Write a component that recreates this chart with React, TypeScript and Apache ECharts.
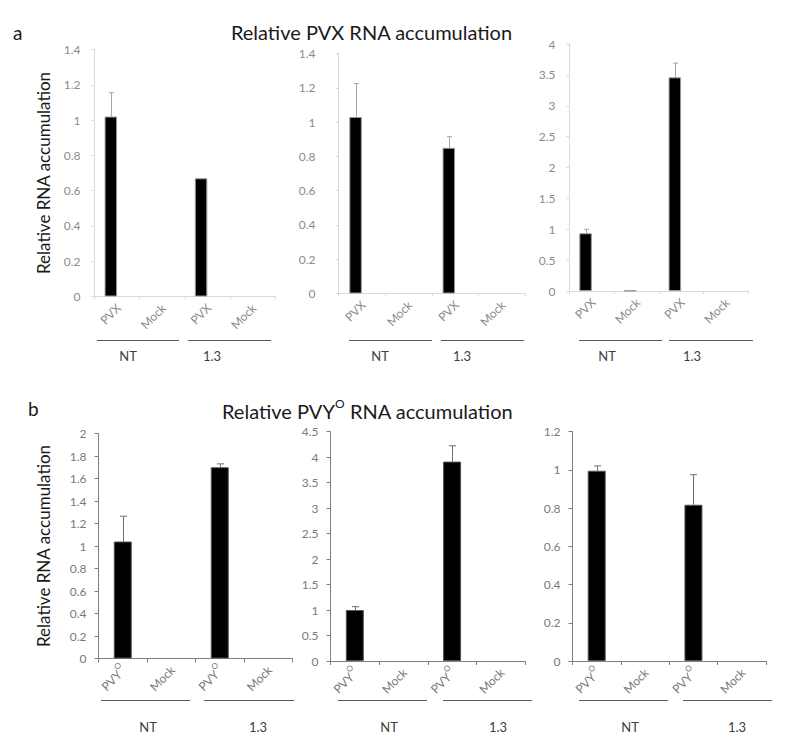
import React, { useEffect, useRef } from "react";
import * as echarts from "echarts";

// ---- data ----
const TOP_CATEGORIES = ["PVX", "Mock", "PVX", "Mock"];
const BOTTOM_CATEGORIES = ["PVYO", "Mock", "PVYO", "Mock"];
const GROUP_LABELS = ["NT", "1.3"];

// a) Relative PVX RNA accumulation
const pvxPanel1 = [1.02, 0, 0.67, 0];
const pvxPanel1Err = [0.135, null, null, null];
const pvxPanel2 = [1.03, 0, 0.85, 0];
const pvxPanel2Err = [0.195, null, 0.065, null];
const pvxPanel3 = [0.935, 0.005, 3.46, 0];
const pvxPanel3Err = [0.065, null, 0.23, null];

// b) Relative PVYO RNA accumulation
const pvyPanel1 = [1.04, 0, 1.7, 0];
const pvyPanel1Err = [0.225, null, 0.03, null];
const pvyPanel2 = [1.0, 0, 3.91, 0];
const pvyPanel2Err = [0.065, null, 0.31, null];
const pvyPanel3 = [0.995, 0, 0.817, 0];
const pvyPanel3Err = [0.025, null, 0.157, null];

const PVX_AXIS_MAX = [1.4, 1.4, 4];
const PVX_AXIS_INTERVAL = [0.2, 0.2, 0.5];
const PVY_AXIS_MAX = [2, 4.5, 1.2];
const PVY_AXIS_INTERVAL = [0.2, 0.5, 0.2];

const FONT = "Lato";

export default function App() {
  const ref = useRef<HTMLDivElement>(null);

  useEffect(() => {
    document.body.style.margin = "0";
    const chart = echarts.init(ref.current!, null, { renderer: "svg" });

    const TOP_BAR_W = 12.5;
    const BOT_BAR_W = 18;

    const panels = [
      { row: 0, vals: pvxPanel1, errs: pvxPanel1Err, max: PVX_AXIS_MAX[0], interval: PVX_AXIS_INTERVAL[0], grid: { left: 94.5, top: 49.5, width: 180.5, height: 247 }, labelMargin: 14 },
      { row: 0, vals: pvxPanel2, errs: pvxPanel2Err, max: PVX_AXIS_MAX[1], interval: PVX_AXIS_INTERVAL[1], grid: { left: 338.5, top: 53.5, width: 186.5, height: 240 }, labelMargin: 23 },
      { row: 0, vals: pvxPanel3, errs: pvxPanel3Err, max: PVX_AXIS_MAX[2], interval: PVX_AXIS_INTERVAL[2], grid: { left: 569.5, top: 44, width: 178.5, height: 247 }, labelMargin: 14 },
      { row: 1, vals: pvyPanel1, errs: pvyPanel1Err, max: PVY_AXIS_MAX[0], interval: PVY_AXIS_INTERVAL[0], grid: { left: 98.5, top: 433.5, width: 194, height: 225 }, labelMargin: 12 },
      { row: 1, vals: pvyPanel2, errs: pvyPanel2Err, max: PVY_AXIS_MAX[1], interval: PVY_AXIS_INTERVAL[1], grid: { left: 330.5, top: 431.5, width: 194.5, height: 229.5 }, labelMargin: 12 },
      { row: 1, vals: pvyPanel3, errs: pvyPanel3Err, max: PVY_AXIS_MAX[2], interval: PVY_AXIS_INTERVAL[2], grid: { left: 572.5, top: 431.5, width: 193.5, height: 229.5 }, labelMargin: 12 },
    ];

    const grid = panels.map((p) => ({ ...p.grid }));

    const xAxis = panels.map((p, i) => {
      const top = p.row === 0;
      const axisColor = top ? "#d9d9d9" : "#808080";
      const lab = top ? "#8c8c8c" : "#7a7a7a";
      return {
        type: "category",
        gridIndex: i,
        data: top ? TOP_CATEGORIES : BOTTOM_CATEGORIES,
        axisLine: { show: true, lineStyle: { color: axisColor, width: 1 } },
        axisTick: { show: true, length: top ? 3 : 4, lineStyle: { color: axisColor } },
        axisLabel: {
          rotate: 45,
          margin: 8,
          color: lab,
          fontSize: 12,
          fontFamily: FONT,
          interval: 0,
          formatter: (v: string) => (v === "PVYO" ? "{n|PVY}{s|O}" : "{n|" + v + "}"),
          rich: {
            n: { fontSize: 12, fontFamily: FONT, color: lab, lineHeight: 16, verticalAlign: "bottom" },
            s: { fontSize: 8, fontFamily: FONT, color: lab, lineHeight: 16, verticalAlign: "top", padding: [0, 0, 6, 0] },
          },
        },
        splitLine: { show: false },
      };
    });

    const yAxis = panels.map((p, i) => {
      const top = p.row === 0;
      const axisColor = top ? "#d9d9d9" : "#808080";
      const first = i === 0 || i === 3;
      return {
        type: "value",
        gridIndex: i,
        min: 0,
        max: p.max,
        interval: p.interval,
        name: first ? "Relative RNA accumulation" : "",
        nameLocation: "middle",
        nameGap: top ? 43 : 47,
        nameTextStyle: { fontSize: 17, fontFamily: FONT, color: "#1a1a1a" },
        axisLine: { show: true, lineStyle: { color: axisColor, width: 1 } },
        axisTick: { show: true, length: top ? 3 : 4, lineStyle: { color: axisColor } },
        axisLabel: { color: top ? "#8c8c8c" : "#7a7a7a", fontSize: 12, fontFamily: FONT, margin: p.labelMargin },
        splitLine: { show: false },
      };
    });

    const series: any[] = [];
    panels.forEach((p, i) => {
      const top = p.row === 0;
      const bw = top ? TOP_BAR_W : BOT_BAR_W;
      series.push({
        type: "bar",
        xAxisIndex: i,
        yAxisIndex: i,
        data: p.vals.map((v) => (v === 0 ? { value: 0, itemStyle: { borderWidth: 0 } } : v)),
        barWidth: bw,
        barGap: "0%",
        itemStyle: { color: "#000000", borderColor: top ? "#9a9a9a" : "#555555", borderWidth: 1 },
      });
      if (top) {
        // empty companion series (as in the source spreadsheet), shifts bars left of centre
        series.push({
          type: "bar",
          xAxisIndex: i,
          yAxisIndex: i,
          data: p.vals.map(() => null),
          barWidth: bw,
          barGap: "0%",
        });
      }
      const offset = top ? -bw / 2 : 0;
      const cap = top ? 2.5 : 3.5;
      const stroke = top ? "#a6a6a6" : "#6e6e6e";
      series.push({
        type: "custom",
        xAxisIndex: i,
        yAxisIndex: i,
        data: p.vals
          .map((v, k) => (p.errs[k] == null ? null : [k, v, p.errs[k]]))
          .filter((d) => d !== null),
        encode: { x: 0, y: 1 },
        renderItem: (params: any, api: any) => {
          const idx = api.value(0);
          const v = api.value(1);
          const e = api.value(2);
          const base = api.coord([idx, v]);
          const tip = api.coord([idx, v + e]);
          const x = Math.round(base[0] + offset) + 0.5;
          return {
            type: "group",
            children: [
              { type: "line", shape: { x1: x, y1: base[1], x2: x, y2: tip[1] }, style: { stroke, lineWidth: 1 } },
              { type: "line", shape: { x1: x - cap, y1: tip[1], x2: x + cap, y2: tip[1] }, style: { stroke, lineWidth: 1 } },
            ],
          };
        },
        z: 5,
      });
    });

    const lineStyle = { stroke: "#595959", lineWidth: 1 };
    const groupText = (x: number, y: number, t: string) => ({
      type: "text",
      x,
      y,
      style: { text: t, fontSize: 13, fontFamily: FONT, fill: "#404040", align: "center", verticalAlign: "middle" },
    });
    const hline = (x1: number, x2: number, y: number) => ({
      type: "line",
      shape: { x1, y1: y, x2, y2: y },
      style: lineStyle,
    });

    const graphic: any[] = [
      { type: "text", x: 13, y: 32, style: { text: "a", fontSize: 19, fontFamily: FONT, fill: "#1a1a1a", verticalAlign: "middle" } },
      { type: "text", x: 28, y: 408, style: { text: "b", fontSize: 19, fontFamily: FONT, fill: "#1a1a1a", verticalAlign: "middle" } },
      {
        type: "text",
        x: 371.5,
        y: 32,
        style: { text: "Relative PVX RNA accumulation", fontSize: 20, fontFamily: FONT, fill: "#1a1a1a", align: "center", verticalAlign: "middle" },
      },
      {
        type: "text",
        x: 367.5,
        y: 409,
        style: {
          text: "{a|Relative PVY}{s|O}{a| RNA accumulation}",
          align: "center",
          verticalAlign: "middle",
          rich: {
            a: { fontSize: 20, fontFamily: FONT, fill: "#1a1a1a", color: "#1a1a1a", lineHeight: 24, verticalAlign: "bottom" },
            s: { fontSize: 12, fontFamily: FONT, fill: "#1a1a1a", color: "#1a1a1a", lineHeight: 24, verticalAlign: "top" },
          },
        },
      },
      // group brackets, row a
      hline(97, 179, 340.5), hline(188, 271, 340.5),
      hline(349, 432, 340.5), hline(441, 524, 340.5),
      hline(579, 662, 340.5), hline(669, 753, 340.5),
      groupText(128, 356, GROUP_LABELS[0]), groupText(212, 356, GROUP_LABELS[1]),
      groupText(380, 356, GROUP_LABELS[0]), groupText(462, 356, GROUP_LABELS[1]),
      groupText(607, 356, GROUP_LABELS[0]), groupText(692, 356, GROUP_LABELS[1]),
      // group brackets, row b
      hline(101, 190, 700.5), hline(204, 294, 700.5),
      hline(338, 427, 700.5), hline(443, 532, 700.5),
      hline(579, 668, 700.5), hline(683, 772, 700.5),
      groupText(148, 727, GROUP_LABELS[0]), groupText(258, 727, GROUP_LABELS[1]),
      groupText(389, 727, GROUP_LABELS[0]), groupText(498, 727, GROUP_LABELS[1]),
      groupText(630, 727, GROUP_LABELS[0]), groupText(737, 727, GROUP_LABELS[1]),
    ];

    chart.setOption({
      animation: false,
      backgroundColor: "#ffffff",
      textStyle: { fontFamily: FONT },
      grid,
      xAxis,
      yAxis,
      series,
      graphic,
    });

    return () => chart.dispose();
  }, []);

  return <div ref={ref} style={{ width: 787, height: 748 }} />;
}
